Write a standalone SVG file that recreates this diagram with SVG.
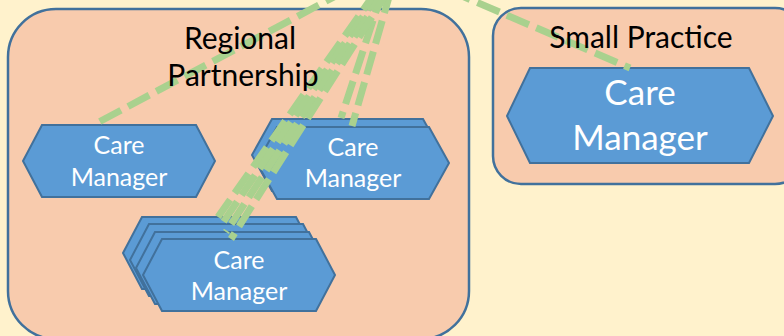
<svg xmlns="http://www.w3.org/2000/svg" width="784" height="336" viewBox="0 0 784 336">
  <style>
    .container { fill: #F8CBAD; stroke: #41719C; stroke-width: 2.5; }
    .hex { fill: #5B9BD5; stroke: #41719C; stroke-width: 2; stroke-linejoin: miter; }
    .cm { font-family: Lato, "Liberation Sans", sans-serif; fill: #FFFFFF; text-anchor: middle; font-size: 25px; }
    .cmbig { font-family: Lato, "Liberation Sans", sans-serif; fill: #FFFFFF; text-anchor: middle; font-size: 35px; }
    .title { font-family: Lato, "Liberation Sans", sans-serif; fill: #000000; text-anchor: middle; font-size: 30px; }
    .conn { fill: none; stroke: #A9D18E; stroke-width: 7; stroke-dasharray: 24 8; }
  </style>
  <rect x="0" y="0" width="784" height="336" fill="#FFF2CC"/>

  <g id="regional-partnership">
    <rect class="container" x="8" y="9" width="461" height="330" rx="48" ry="48"/>
  </g>
  <g id="small-practice">
    <rect class="container" x="493" y="8" width="310" height="176" rx="28" ry="28"/>
  </g>

  <g id="cm-left">
    <path class="hex" d="M23,161 L42,125 L196,125 L215,161 L196,197 L42,197 Z"/>
    <text class="cm" x="119" y="154">Care</text>
    <text class="cm" x="119" y="186">Manager</text>
  </g>

  <g id="cm-middle-stack">
    <path class="hex" d="M252,155 L272,119 L423,119 L443,155 L423,191 L272,191 Z"/>
    <path class="hex" d="M257,163 L277,127 L429,127 L449,163 L429,199 L277,199 Z"/>
    <text class="cm" x="353" y="156">Care</text>
    <text class="cm" x="353" y="187">Manager</text>
  </g>

  <g id="cm-bottom-stack">
    <path class="hex" d="M123,253 L142,217 L296,217 L315,253 L296,289 L142,289 Z"/>
    <path class="hex" d="M130,260 L149,224 L303,224 L322,260 L303,296 L149,296 Z"/>
    <path class="hex" d="M136,268 L155,232 L309,232 L328,268 L309,304 L155,304 Z"/>
    <path class="hex" d="M143,275 L162,239 L316,239 L335,275 L316,311 L162,311 Z"/>
    <text class="cm" x="239" y="269">Care</text>
    <text class="cm" x="239" y="300">Manager</text>
  </g>

  <g id="cm-small-practice">
    <path class="hex" d="M507,116 L530,68 L749,68 L773,116 L749,163 L530,163 Z"/>
    <text class="cmbig" x="640" y="105">Care</text>
    <text class="cmbig" x="640" y="150">Manager</text>
  </g>

  <g id="connectors">
    <path class="conn" d="M347,-10 L97,123"/>
    <path class="conn" d="M383,-10 L341,118"/>
    <path class="conn" d="M391,-10 L352,126"/>
    <path class="conn" d="M377,-10 L218,217"/>
    <path class="conn" d="M381,-10 L222,224"/>
    <path class="conn" d="M385,-10 L226,232"/>
    <path class="conn" d="M389,-10 L231,239"/>
    <path class="conn" d="M448,-10 L630,68"/>
  </g>

  <g id="labels">
    <text class="title" x="240" y="49">Regional</text>
    <text class="title" x="243" y="86">Partnership</text>
    <text class="title" x="641" y="48">Small Practice</text>
  </g>
</svg>
